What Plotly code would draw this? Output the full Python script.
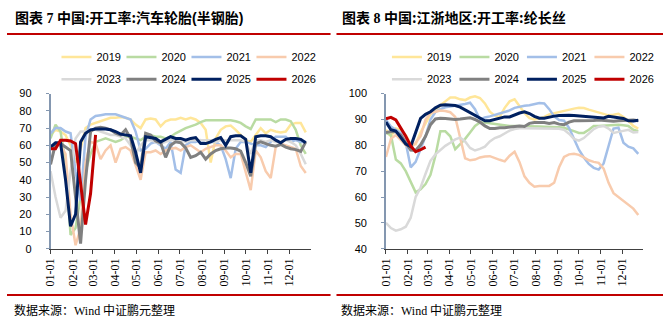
import plotly.graph_objects as go
import pandas as pd

years = ["2019", "2020", "2021", "2022", "2023", "2024", "2025", "2026"]
colors = ["#ffe699", "#b9dba2", "#a3bfe8", "#f8cbad", "#d9d9d9", "#808080", "#002060", "#c00000"]
widths = [2.5, 2.5, 2.5, 2.5, 2.5, 3, 3, 3]

month_labels = ["01-01", "02-01", "03-01", "04-01", "05-01", "06-01",
                "07-01", "08-01", "09-01", "10-01", "11-01", "12-01"]

# ---- Chart 7: semi-steel tyre operating rate (%) weekly ----
tire_2019 = [66, 69, 68, 66, 60, 50, 58, 70, 72, 73, 74, 75, 76, 76, 76.5, 76, 75, 72, 70, 75,
             75.5, 75, 71, 74, 75, 75, 76, 75, 76, 75, 73, 69, 50, 64, 69, 71, 71.5, 69, 66, 63,
             62, 66, 70, 67, 69, 68, 67.5, 68, 72, 73, 73, 67.5]
tire_2020 = [64, 72, 68, 50, 8, 12, 30, 45, 55, 62, 63, 64, 63, 62, 63, 65, 65, 64, 63, 65,
             66, 65, 65, 64, 65, 67, 68.5, 70, 71, 72, 73.5, 74.5, 74.5, 74.5, 74.5, 74.5, 74.5, 74, 73, 71,
             69.5, 75, 75, 75, 75, 73.5, 75, 75, 74, 69, 60, 55]
tire_2021 = [67, 70, 70, 68, 67, 45, 28, 65, 75, 77, 77.5, 78, 78, 78, 77, 76, 75, 68, 57, 58,
             61, 62, 60, 58, 62, 46, 44, 60, 62, 62, 63, 61, 62, 62, 60, 52, 41, 58, 62, 62,
             61, 60, 60, 59, 62, 65, 65, 65, 62, 63, 62, 62]
tire_2022 = [59, 60, 60, 55, 20, 2, 12, 50, 62, 61, 52, 57, 60, 50, 58, 59, 57, 48, 40, 56,
             56, 57, 55, 57, 58, 58.5, 57, 59, 60, 58, 56, 58, 59, 60, 60, 57, 53, 55, 55, 45,
             34, 57, 53, 45, 41, 59, 61, 60, 59, 58, 48, 44]
tire_2023 = [45, 30, 18, 22, 45, 64, 68, 68, 69, 69, 68, 67, 66, 66, 65, 64, 60, 55, 60, 63,
             63, 62, 61, 62, 63, 63, 63, 62, 63, 63, 63, 63, 63, 62, 63, 63, 63, 63, 63, 62,
             55, 63, 63, 62, 63, 62, 62, 63, 62, 60, 55, 49]
tire_2024 = [49, 61, 61, 59, 57, 30, 3, 40, 68, 70, 70.5, 70, 69, 67, 66, 69, 64, 50, 47, 67,
             66, 62.5, 61.5, 53, 60, 62, 61.5, 58.5, 53, 54, 56, 52, 55, 57, 58, 58.5, 58.5, 58, 56.7, 50,
             42, 61, 62, 61, 60, 59.5, 60.5, 59, 58, 57.5, 56.5, 62]
tire_2025 = [59, 61.5, 61.5, 40, 13, 20, 62, 67, 69, 69.5, 69.5, 69.5, 69, 68, 66.5, 66, 65.5, 56, 44, 65,
             64.5, 64, 62, 63.5, 65, 64, 64, 63, 64, 64.5, 61, 61, 62, 63.5, 64.5, 60, 65, 65.5, 65.5, 63.5,
             44, 65, 65.5, 65.5, 65, 63, 61.5, 63.5, 64, 64, 63.5, 61.5]
tire_2026 = [58, 58, 63, 63, 62.5, 61, 38, 14, 32, 66]

# ---- Chart 8: Jiangsu-Zhejiang polyester filament operating rate (%) weekly ----
fil_2019 = [86, 83.5, 86.5, 86, 84, 80.5, 80.4, 85, 88.5, 92, 93.5, 95.5, 97, 98.5, 98.5, 97.8, 97.5, 98.5, 99, 98.3,
            96.2, 93, 91.5, 91, 94.5, 97, 97.8, 95.3, 92.5, 90.5, 90, 90.4, 91, 92, 92.5, 92.8, 93.2, 93.8, 94.2, 94.5,
            94.4, 93.8, 93.2, 92.5, 92, 91.6, 91.8, 92.2, 91, 89.5, 87.5, 86.5]
fil_2020 = [84.8, 84, 74.5, 73, 70, 66, 61.8, 63, 65, 68.6, 76, 85.4, 85.4, 83.5, 78.5, 80.5, 82.5, 85, 87.5, 88.8,
            88.8, 88.5, 88.2, 88, 87.8, 87.5, 87.5, 87.5, 87.3, 87.3, 87.3, 87.3, 87.2, 87.2, 87.2, 87, 86.8, 86, 85.5, 84.8,
            84.8, 86, 87.5, 87.5, 87.7, 87.8, 88, 88, 87.8, 87.5, 86, 85.5]
fil_2021 = [89.8, 87.3, 86, 84.8, 81, 71.5, 73.6, 78.6, 83.5, 90, 92.9, 94, 94.7, 95, 95.3, 95.6, 96, 96.5, 94, 90,
            90.8, 91.2, 91.8, 92.2, 92.7, 93.5, 94.5, 95, 95.3, 95.5, 96, 96.4, 96.2, 94, 91.2, 89.8, 89.5, 86.8, 82.5, 78.3,
            75.3, 72.8, 71.3, 70.6, 73, 79.5, 86.5, 86.8, 81, 79.5, 78.8, 76.7]
fil_2022 = [75.5, 82.5, 84, 82, 80, 79, 81, 83.5, 90, 92.5, 93, 93.5, 93.3, 92.8, 91, 83, 75, 74.2, 74.5, 75.3,
            75.7, 75.8, 75, 74.4, 73.8, 76, 77.5, 73.5, 68, 65.5, 64, 64.3, 64.3, 64.3, 65.5, 71.5, 75.5, 76.5, 76.7, 76.3,
            75.3, 74.2, 73.6, 73.2, 71, 65.5, 61.5, 60, 58.5, 57, 55.5, 53]
fil_2023 = [50, 48, 47, 47.5, 48.5, 52, 60, 63.7, 69, 74, 76.5, 78.3, 79.8, 81, 82.3, 83, 81.5, 79, 78, 78.6,
            79.5, 81.5, 82.8, 83.5, 84.6, 85.7, 86.3, 86.6, 86.6, 86.6, 86.6, 86.6, 86.6, 86.6, 86.6, 86.4, 86, 84.5, 82.5, 81.8,
            82.8, 84.5, 86.3, 87.2, 87.5, 86.5, 84.8, 85.2, 85.6, 86, 85, 85.2]
fil_2024 = [85, 85.3, 85.3, 84, 81, 78.2, 78, 80.2, 83.5, 88, 90.2, 90.5, 90.4, 90.2, 90, 90.2, 90.5, 90.7, 90, 89,
            87.5, 86.5, 86.5, 86.8, 86.8, 87, 87.3, 87.5, 87.3, 88.5, 88.8, 88.8, 88.8, 88.5, 88.8, 88.2, 88, 89, 89.5, 89.5,
            89.5, 89.5, 89.6, 89.8, 89.7, 89.5, 89.3, 89.5, 89.7, 89.7, 89.8, 89.5]
fil_2025 = [89, 86, 85.5, 83, 80.5, 79.5, 85.4, 90.4, 92, 93, 94.5, 95.5, 95.7, 95.6, 95.4, 94.8, 93.7, 92.8, 91.8, 90.4,
            89.5, 89.5, 90, 90.5, 91, 91, 91.8, 92.5, 93, 92.3, 91.2, 90.5, 90.5, 91, 91.3, 91.5, 91.6, 91.6, 91.5, 91.3,
            91.2, 91, 90.8, 90.8, 90.6, 91.2, 91, 90.6, 90.4, 89.5, 89.4, 89.7]
fil_2026 = [90.3, 90.8, 89.8, 86.8, 83.5, 79.8, 77.5, 78.3, 79.3]

tire_series = [tire_2019, tire_2020, tire_2021, tire_2022, tire_2023, tire_2024, tire_2025, tire_2026]
fil_series = [fil_2019, fil_2020, fil_2021, fil_2022, fil_2023, fil_2024, fil_2025, fil_2026]

# weekly observation dates on a common (dummy) calendar year
week_dates = pd.date_range("2001-01-01", periods=52, freq="7D")
month_ticks = pd.date_range("2001-01-01", periods=12, freq="MS")

W, H = 663, 325
fig = go.Figure()

for i, (yr, vals) in enumerate(zip(years, tire_series)):
    fig.add_trace(go.Scatter(
        x=week_dates[:len(vals)], y=vals, mode="lines", name=yr,
        line=dict(color=colors[i], width=widths[i]),
        xaxis="x", yaxis="y", legend="legend" if i < 4 else "legend2",
        hoverinfo="skip"))
for i, (yr, vals) in enumerate(zip(years, fil_series)):
    fig.add_trace(go.Scatter(
        x=week_dates[:len(vals)], y=vals, mode="lines", name=yr,
        line=dict(color=colors[i], width=widths[i]),
        xaxis="x2", yaxis="y2", legend="legend3" if i < 4 else "legend4",
        hoverinfo="skip"))

ydom = [73 / H, 234 / H]
xcommon = dict(type="date", range=["2001-01-01", "2001-12-31"], tickvals=month_ticks,
               ticktext=month_labels, tickangle=-90, ticks="outside", ticklen=4,
               tickcolor="#404040", showline=True, linecolor="#404040", linewidth=1,
               showgrid=False, zeroline=False,
               tickfont=dict(family="Liberation Serif", size=12, color="#000000"))
ycommon = dict(ticks="outside", ticklen=3, tickcolor="#8497b0", showline=True,
               linecolor="#8497b0", linewidth=1.5, showgrid=False, zeroline=False,
               ticklabelstandoff=12,
               tickfont=dict(family="Liberation Sans", size=11, color="#000000"))

leg = dict(orientation="h", xanchor="left", yanchor="middle",
           entrywidthmode="pixels", itemwidth=30, bgcolor="rgba(0,0,0,0)",
           font=dict(family="Liberation Sans", size=11, color="#000000"), tracegroupgap=0)

fig.update_layout(
    width=W, height=H, margin=dict(l=0, r=0, t=0, b=0),
    paper_bgcolor="white", plot_bgcolor="white", showlegend=True,
    xaxis=dict(domain=[44 / W, 307 / W], anchor="y", **xcommon),
    yaxis=dict(domain=ydom, anchor="x", range=[0, 90], dtick=10, **ycommon),
    xaxis2=dict(domain=[383 / W, 643 / W], anchor="y2", **xcommon),
    yaxis2=dict(domain=ydom, anchor="x2", range=[40, 100], dtick=10, **ycommon),
    legend=dict(x=50 / W, y=(H - 53) / H, entrywidth=20, **leg),
    legend2=dict(x=50 / W, y=(H - 76) / H, entrywidth=20, **leg),
    legend3=dict(x=384 / W, y=(H - 53) / H, entrywidth=22.5, **leg),
    legend4=dict(x=384 / W, y=(H - 76) / H, entrywidth=22.5, **leg),
)

title_font = dict(family="Noto Sans CJK SC", size=14, color="#000000")
src_font = dict(family="Noto Sans CJK SC", size=12, color="#000000")
LS = "<span style='font-family:Liberation Sans'>"
LSR = "<span style='font-family:Liberation Serif'>"
title7 = ("<b>图表" + LSR + " 7 </span>中国:开工率:汽车轮胎" + LS + "(</span>半钢胎"
          + LS + ")</span></b>")
title8 = "<b>图表" + LSR + " 8 </span>中国:江浙地区:开工率:纶长丝</b>"
annotations = [
    dict(text=title7, x=6 / W, y=(H - 11) / H,
         xanchor="left", yanchor="middle", font=title_font),
    dict(text=title8, x=337 / W, y=(H - 11) / H,
         xanchor="left", yanchor="middle", font=title_font),
    dict(text="数据来源：" + LSR + "Wind</span> 中证鹏元整理",
         x=5 / W, y=(H - 315) / H, xanchor="left", yanchor="middle", font=src_font),
    dict(text="数据来源：" + LSR + "Wind</span> 中证鹏元整理",
         x=336 / W, y=(H - 315) / H, xanchor="left", yanchor="middle", font=src_font),
]
for a in annotations:
    a.update(xref="paper", yref="paper", showarrow=False)
fig.update_layout(annotations=annotations)

red = "#c00000"
shapes = []
for x0, x1 in [(0, 327), (333, 663)]:
    for yy in [29, 300]:
        shapes.append(dict(type="line", xref="paper", yref="paper",
                           x0=x0 / W, x1=x1 / W, y0=(H - yy) / H, y1=(H - yy) / H,
                           line=dict(color=red, width=2)))
fig.update_layout(shapes=shapes)

fig.write_html("out.html")
